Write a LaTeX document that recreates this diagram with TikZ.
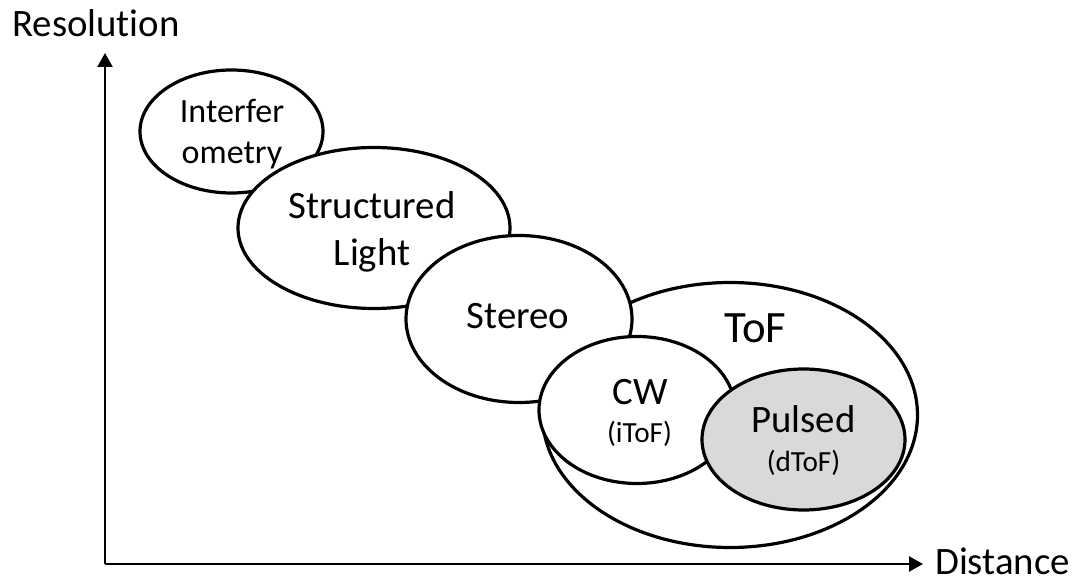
\documentclass[tikz,border=0pt]{standalone}
\usepackage{fontspec}
\setmainfont{Carlito}[Ligatures=NoCommon]
\usetikzlibrary{arrows.meta,shapes.geometric}

\definecolor{pulsegray}{HTML}{D9D9D9}

\begin{document}
\begin{tikzpicture}[
    x=0.5pt,y=-0.5pt,
    >={Triangle[length=7pt,width=7.5pt]},
    axis/.style={->,line width=1.15pt},
    blob/.style={ellipse,draw,line width=1.6pt,fill=white,inner sep=0pt},
    lbl/.style={font=\fontsize{19.4}{23.6}\selectfont,align=center},
    sublbl/.style={font=\fontsize{14.6}{17.8}\selectfont},
]
\useasboundingbox (0,0) rectangle (1078,582);

% Axes
\coordinate (origin) at (105,564);
\coordinate (ytip) at (105,53);
\coordinate (xtip) at (923,564);
\draw[axis] (origin) -- (ytip);
\draw[axis] (origin) -- (xtip);
\node[lbl,anchor=base] (reslabel) at (96,37) {Resolution};
\node[lbl,anchor=base] (distlabel) at (1002.5,575) {Distance};

% Technique ellipses (back to front)
\node[blob,minimum width=91.5pt,minimum height=61.5pt] (interf) at (231.5,131.5) {};
\node[blob,minimum width=136pt,minimum height=80.5pt] (struct) at (374,228) {};
\node[blob,minimum width=187.5pt,minimum height=132.5pt] (tof) at (730,415) {};
\node[blob,minimum width=113pt,minimum height=83.5pt] (stereo) at (519,319) {};
\node[blob,minimum width=98pt,minimum height=73.5pt] (cw) at (637,410) {};
\node[blob,fill=pulsegray,minimum width=101.5pt,minimum height=70.5pt] (pulsed) at (803.5,439.5) {};

% Labels
\node[lbl,font=\fontsize{17}{20.7}\selectfont] (interflabel) at (232,134) {Interfer\\ometry};
\node[lbl] (structlabel) at (372,231.5) {Structured\\Light};
\node[lbl,anchor=base] (stereolabel) at (518,329) {Stereo};
\node[lbl,anchor=base,font=\fontsize{22.4}{27.2}\selectfont] (toflabel) at (755.5,343) {ToF};
\node[lbl,anchor=base] (cwlabel) at (640,405) {CW};
\node[sublbl,anchor=base] (cwsub) at (639.5,443) {(iToF)};
\node[lbl,anchor=base] (pulsedlabel) at (803.5,433) {Pulsed};
\node[sublbl,anchor=base] (pulsedsub) at (803.5,472) {(dToF)};
\end{tikzpicture}
\end{document}
